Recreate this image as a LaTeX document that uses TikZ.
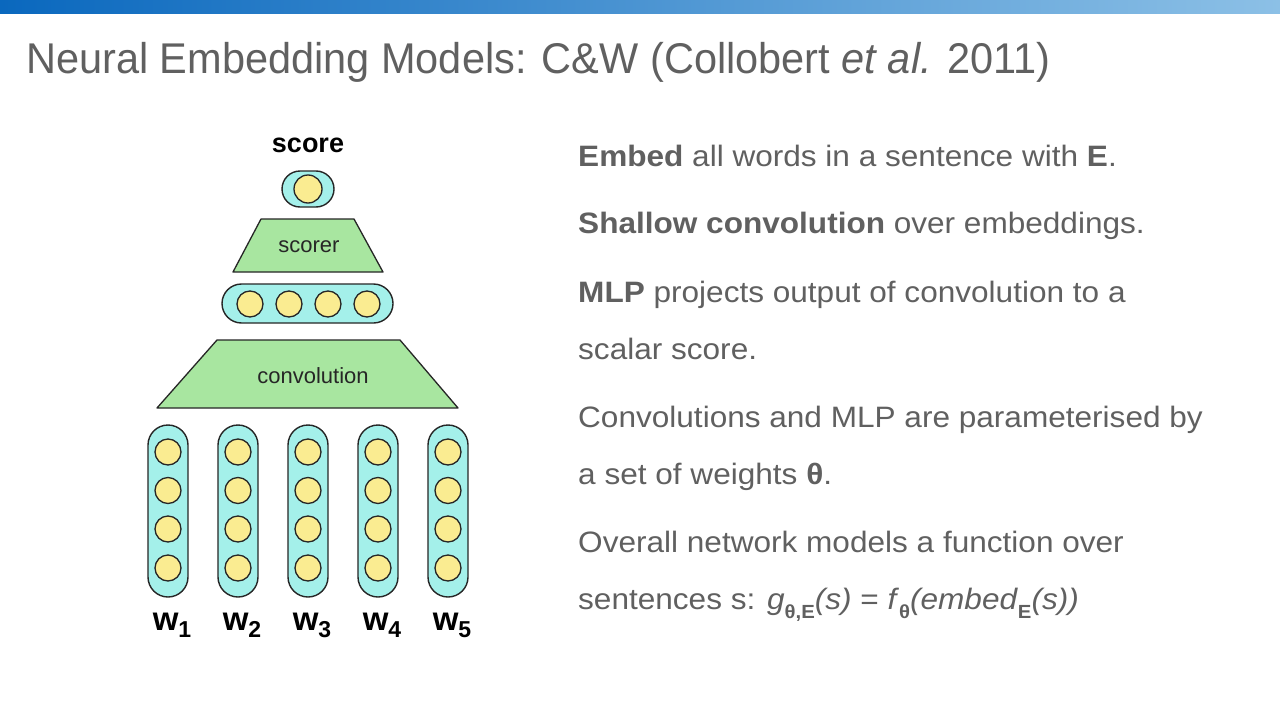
\documentclass[tikz,border=0pt]{standalone}
\usepackage{fontspec}
\setmainfont{Liberation Sans}
\newfontfamily\titlefont{Liberation Sans}[FakeStretch=0.965]
\newfontfamily\bodyfont{Liberation Sans}[FakeStretch=1.07]
\usepackage{xcolor}
\usepackage{tikz}

\definecolor{barleft}{RGB}{10,104,190}
\definecolor{barright}{RGB}{140,192,230}
\definecolor{slidegray}{RGB}{96,96,96}
\definecolor{pillfill}{RGB}{164,240,234}
\definecolor{unitfill}{RGB}{250,236,145}
\definecolor{layerfill}{RGB}{168,230,160}

\begin{document}
\begin{tikzpicture}[x=1pt, y=-1pt, node distance=70pt,
  pill/.style={draw=black!85, line width=1.4pt, fill=pillfill, inner sep=0pt},
  unit/.style={draw=black!85, line width=1.3pt, fill=unitfill, circle, inner sep=0pt, minimum size=26pt},
  layer/.style={draw=black!85, line width=1.3pt, fill=layerfill, line join=round},
  layerlabel/.style={inner sep=0pt, text=black!85, font=\fontsize{22}{22}\selectfont},
  wordlabel/.style={font=\fontsize{33}{33}\selectfont\bfseries, inner sep=0pt},
  bodytext/.style={anchor=base west, inner sep=0pt, text=slidegray, font=\bodyfont\fontsize{29.5}{29.5}\selectfont}]
\useasboundingbox (0,0) rectangle (1280,720);
\fill[white] (0,0) rectangle (1280,720);
% top bar and title
\shade[left color=barleft, right color=barright] (0,0) rectangle (1280,13);
\node (title) [anchor=base west, inner sep=0pt, text=slidegray, font=\titlefont\fontsize{43}{43}\selectfont] at (26,73) {Neural Embedding Models: C\&W (Collobert \textit{et al.} 2011)};

% network
\node (score) [anchor=base, inner sep=0pt, font=\fontsize{27}{27}\selectfont\bfseries] at (308,152) {score};
\node (out) [pill, minimum width=52pt, minimum height=36pt, rounded corners=18pt] at (308,189) {};
\node (outunit) [unit, minimum size=28pt] at (308,189) {};
\draw[layer] (233,272) -- (261,219) -- (354,219) -- (383,272) -- cycle;
\node (scorer) [layerlabel] at (309,247) {scorer};
\node (hidden) [pill, minimum width=171pt, minimum height=39pt, rounded corners=19.5pt] at (307.5,303.5) {};
\node (h1) [unit] at (250,304) {};
\node (h2) [unit] at (289,304) {};
\node (h3) [unit] at (328,304) {};
\node (h4) [unit] at (367,304) {};
\draw[layer] (157,408) -- (217,340) -- (400,340) -- (458,408) -- cycle;
\node (conv) [layerlabel] at (313,376) {convolution};

% word columns
\node (col1) [pill, minimum width=40pt, minimum height=172pt, rounded corners=20pt] at (168,511) {};
\node (col2) [pill, minimum width=40pt, minimum height=172pt, rounded corners=20pt, right of=col1] {};
\node (col3) [pill, minimum width=40pt, minimum height=172pt, rounded corners=20pt, right of=col2] {};
\node (col4) [pill, minimum width=40pt, minimum height=172pt, rounded corners=20pt, right of=col3] {};
\node (col5) [pill, minimum width=40pt, minimum height=172pt, rounded corners=20pt, right of=col4] {};
\foreach \c in {1,...,5} {
  \foreach \k/\y in {a/452,b/490.5,c/529,d/568} {
    \node (col\c\k) [unit] at (col\c |- 0,\y) {};
  }
  \node (word\c) [wordlabel] at ([xshift=4pt]col\c |- 0,625) {w\raisebox{-7pt}{\fontsize{23}{23}\selectfont\bfseries\c}};
}

% bullet text
\node (embed) [bodytext] at (578,166) {\textbf{Embed} all words in a sentence with \textbf{E}.};
\node (shallow) [bodytext] at (578,233) {\textbf{Shallow convolution} over embeddings.};
\node (mlp) [bodytext] at (578,302) {\textbf{MLP} projects output of convolution to a};
\node (mlp2) [bodytext] at (578,359) {scalar score.};
\node (params) [bodytext] at (578,427) {Convolutions and MLP are parameterised by};
\node (params2) [bodytext] at (578,484) {a set of weights \textbf{θ}.};
\node (overall) [bodytext] at (578,552) {Overall network models a function over};
\node (overall2) [bodytext] at (578,609) {sentences s: \textit{g}\raisebox{-9pt}{\fontsize{19}{19}\selectfont\bfseries θ,E}\textit{(s)} = \textit{f}\raisebox{-9pt}{\fontsize{19}{19}\selectfont\bfseries θ}\textit{(embed}\raisebox{-9pt}{\fontsize{19}{19}\selectfont\bfseries E}\textit{(s))}};
\end{tikzpicture}
\end{document}
